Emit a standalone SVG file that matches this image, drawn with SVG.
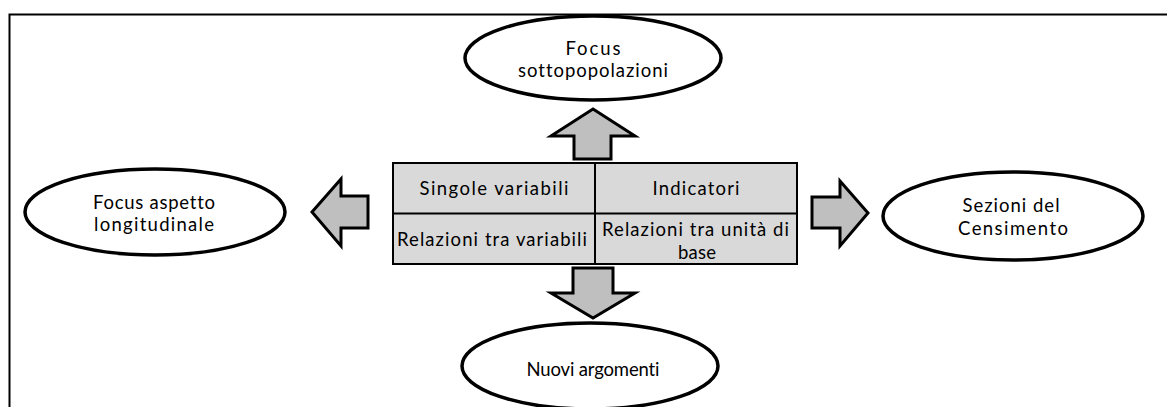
<svg xmlns="http://www.w3.org/2000/svg" width="1167" height="407" viewBox="0 0 1167 407">
<style>
.ell{fill:#ffffff;stroke:#000000;stroke-width:3.5}
.arr{fill:#bfbfbf;stroke:#000000;stroke-width:3;stroke-linejoin:miter}
.cell{fill:#d9d9d9;stroke:#000000;stroke-width:2}
.t{font-family:Lato,"Open Sans","Liberation Sans",sans-serif;font-size:18.5px;fill:#000000;text-anchor:middle;font-variant-ligatures:none;font-feature-settings:"liga" 0,"clig" 0}
</style>
<rect x="0" y="0" width="1167" height="407" fill="#ffffff"/>
<path d="M9.5,410 V14.5 H1167" fill="none" stroke="#000000" stroke-width="2"/>
<g id="connectors">
<polygon class="arr" points="593,109 635,136 611,136 611,159 574,159 574,136 551,136"/>
<polygon class="arr" points="573,268 613,268 613,293 635,293 593,318 551,293 573,293"/>
<polygon class="arr" points="312,212 341,179 341,196 368,196 368,228 341,228 341,246"/>
<polygon class="arr" points="868,213 840,181 840,197 812,197 812,228 840,228 840,246"/>
</g>
<g id="table">
<rect class="cell" x="393" y="163" width="404" height="101"/>
<line x1="595" y1="163" x2="595" y2="264" stroke="#000000" stroke-width="2"/>
<line x1="393" y1="213.5" x2="797" y2="213.5" stroke="#000000" stroke-width="2"/>
<text class="t" x="494" y="194.5" textLength="149" lengthAdjust="spacing">Singole variabili</text>
<text class="t" x="696" y="194.5" textLength="87" lengthAdjust="spacing">Indicatori</text>
<text class="t" x="492" y="246" textLength="190" lengthAdjust="spacing">Relazioni tra variabili</text>
<text class="t" x="695.5" y="236" textLength="187" lengthAdjust="spacing">Relazioni tra unità di</text>
<text class="t" x="697" y="258.5" textLength="38" lengthAdjust="spacing">base</text>
</g>
<g id="node-top">
<ellipse class="ell" cx="593" cy="58" rx="128" ry="42"/>
<text class="t" x="593" y="54.5" textLength="55" lengthAdjust="spacing">Focus</text>
<text class="t" x="593" y="77" textLength="150" lengthAdjust="spacing">sottopopolazioni</text>
</g>
<g id="node-left">
<ellipse class="ell" cx="155" cy="212" rx="130" ry="43"/>
<text class="t" x="154" y="208.5" textLength="122" lengthAdjust="spacing">Focus aspetto</text>
<text class="t" x="154" y="231" textLength="120" lengthAdjust="spacing">longitudinale</text>
</g>
<g id="node-right">
<ellipse class="ell" cx="1013" cy="216" rx="130" ry="44"/>
<text class="t" x="1011" y="212" textLength="97" lengthAdjust="spacing">Sezioni del</text>
<text class="t" x="1013" y="234.5" textLength="110" lengthAdjust="spacing">Censimento</text>
</g>
<g id="node-bottom">
<ellipse class="ell" cx="590" cy="366" rx="128" ry="43"/>
<text class="t" x="593" y="376" textLength="133" lengthAdjust="spacing">Nuovi argomenti</text>
</g>
</svg>
